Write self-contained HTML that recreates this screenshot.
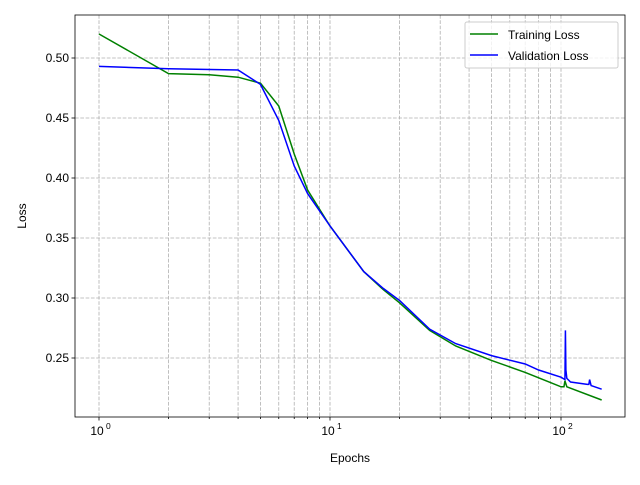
<!DOCTYPE html>
<html><head><meta charset="utf-8"><style>
body{margin:0;background:#fff}
svg{font-family:"Liberation Sans","DejaVu Sans",sans-serif}
</style></head><body>
<svg id="c" width="640" height="480"></svg>
<script>
const trainX=[1,2,3,4,5,6,7,8,10,14,17,20,27,35,50,70,100,103,104,106,150];
const trainY=[0.52,0.487,0.486,0.484,0.479,0.46,0.42,0.39,0.36,0.322,0.307,0.296,0.273,0.26,0.248,0.238,0.226,0.226,0.231,0.226,0.215];
const valX=[1,2,4,5,6,7,8,10,14,17,20,27,35,50,70,80,100,104,104.5,105,106,110,130,132,133,135,150];
const valY=[0.493,0.491,0.490,0.478,0.448,0.41,0.387,0.36,0.322,0.308,0.298,0.274,0.262,0.252,0.245,0.240,0.234,0.232,0.273,0.240,0.233,0.230,0.228,0.228,0.232,0.227,0.224];
const yTicks=[0.25,0.30,0.35,0.40,0.45,0.50];
const xMajor=[1,10,100];
const L=75,R=625,T=15,B=417;
const xs=v=>99+231*Math.log10(v);
const ys=v=>58+(0.5-v)*1200;
const svg=document.getElementById('c');
const NS='http://www.w3.org/2000/svg';
function mk(t,a,p){const e=document.createElementNS(NS,t);for(const k in a)e.setAttribute(k,a[k]);(p||svg).appendChild(e);return e;}
const grid=mk('g',{});


// x grid/ticks
for(let d=0;d<3;d++){for(let m=1;m<10;m++){const v=m*Math.pow(10,d);const x=xs(v);if(x<L||x>R)continue;
mk('line',{x1:x,x2:x,y1:T,y2:B,stroke:'#b0b0b0','stroke-dasharray':'3.7,1.6','stroke-width':0.8},grid);
mk('line',{x1:x,x2:x,y1:B,y2:B+(m==1?3.5:2),stroke:'#000','stroke-width':0.8});}}
xMajor.forEach((v,i)=>{const t=mk('text',{x:xs(v)-2,y:B+18,'font-size':12,'text-anchor':'middle'});t.textContent='10';

const s=mk('text',{x:xs(v)+7,y:B+12,'font-size':8.5});s.textContent=String(i);});
yTicks.forEach(v=>{const y=ys(v);
mk('line',{x1:L,x2:R,y1:y,y2:y,stroke:'#b0b0b0','stroke-dasharray':'3.7,1.6','stroke-width':0.8},grid);
mk('line',{x1:L-3.5,x2:L,y1:y,y2:y,stroke:'#000','stroke-width':0.8});
const t=mk('text',{x:L-6,y:y+4,'font-size':12,'text-anchor':'end'});t.textContent=v.toFixed(2);
});
function line(X,Y,c,n){const p=mk('polyline',{points:X.map((x,i)=>xs(x)+','+ys(Y[i])).join(' '),fill:'none',stroke:c,'stroke-width':1.5});
}
line(trainX,trainY,'green','training-loss-line');
line(valX,valY,'blue','validation-loss-line');
mk('rect',{x:L,y:T,width:R-L,height:B-T,fill:'none',stroke:'#000','stroke-width':0.8});
let t=mk('text',{x:350,y:462,'font-size':12,'text-anchor':'middle'});t.textContent='Epochs';

t=mk('text',{x:26,y:216,'font-size':12,'text-anchor':'middle',transform:'rotate(-90 26 216)'});t.textContent='Loss';

const lg=mk('g',{});


mk('rect',{x:465,y:22,width:153,height:46,rx:2,fill:'#fff','fill-opacity':0.8,stroke:'#ccc'},lg);
mk('line',{x1:470,x2:498,y1:34,y2:34,stroke:'green','stroke-width':1.5},lg);
mk('line',{x1:470,x2:498,y1:55,y2:55,stroke:'blue','stroke-width':1.5},lg);
t=mk('text',{x:508,y:39,'font-size':12},lg);t.textContent='Training Loss';
t=mk('text',{x:508,y:60,'font-size':12},lg);t.textContent='Validation Loss';
</script>
</body></html>
